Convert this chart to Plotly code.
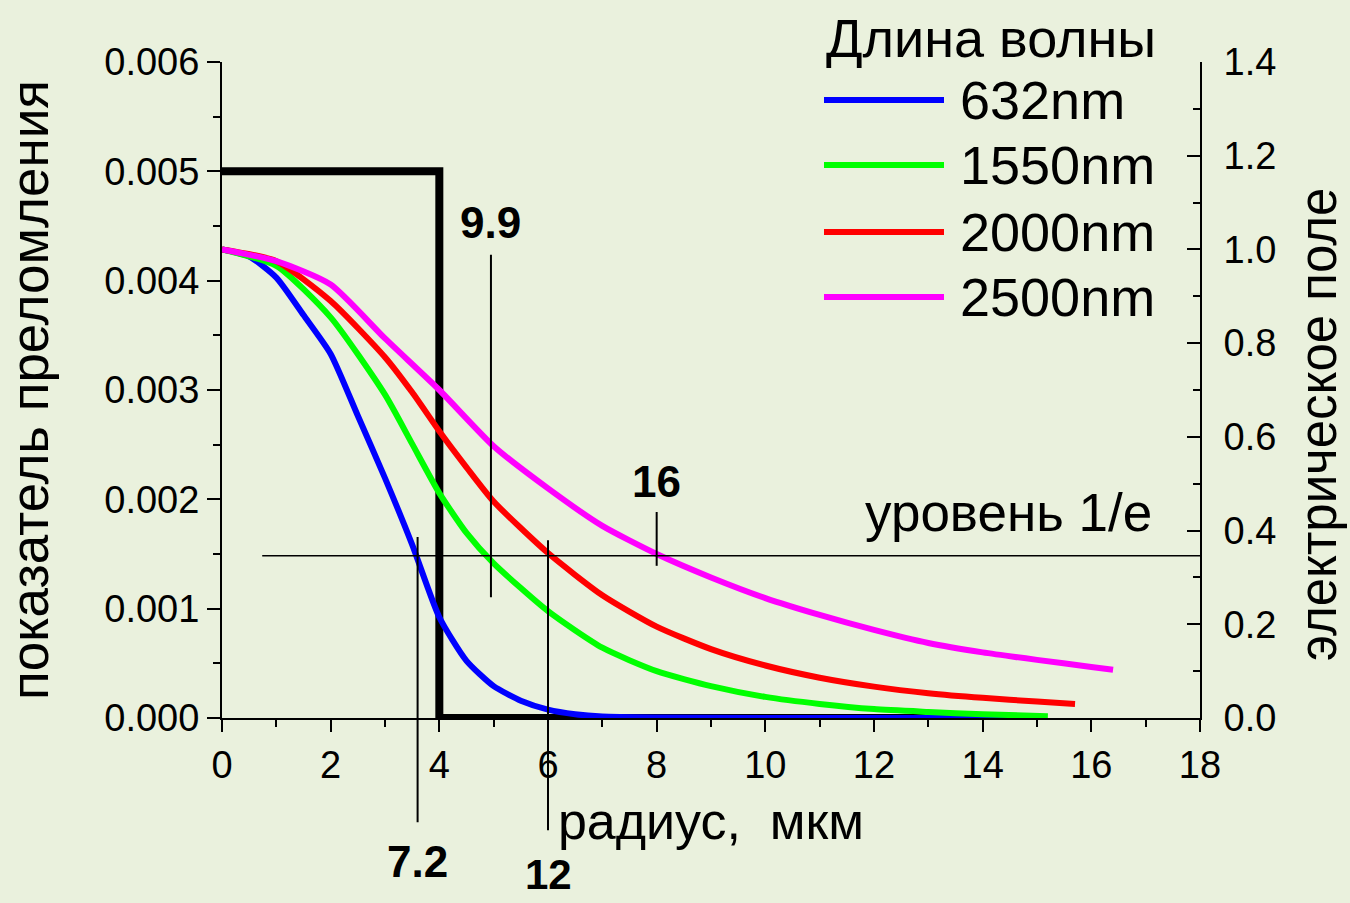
import plotly.graph_objects as go

# ---- data ----
radius_632 = [0, 0.5, 1, 1.5, 2, 2.5, 3, 3.5, 4, 4.5, 5, 5.5, 6, 6.5, 7, 8, 10, 12, 15.1]
field_632 = [1.0, 0.985, 0.94, 0.86, 0.777, 0.645, 0.512, 0.37, 0.215, 0.122, 0.068, 0.037, 0.018, 0.008, 0.003, 0.001, 0.0, 0.0, 0.0]

radius_1550 = [0, 1, 2, 3, 3.5, 4, 4.5, 5, 6, 7, 8, 9, 10, 11, 12, 13, 14, 15.2]
field_1550 = [1.0, 0.965, 0.855, 0.69, 0.585, 0.48, 0.395, 0.33, 0.228, 0.15, 0.10, 0.068, 0.045, 0.03, 0.019, 0.013, 0.008, 0.004]

radius_2000 = [0, 1, 2, 3, 3.5, 4, 4.5, 5, 6, 7, 8, 9, 10, 11, 12, 13, 14, 15, 15.7]
field_2000 = [1.0, 0.975, 0.89, 0.77, 0.695, 0.612, 0.535, 0.462, 0.352, 0.262, 0.195, 0.147, 0.112, 0.086, 0.067, 0.053, 0.043, 0.035, 0.03]

radius_2500 = [0, 1, 2, 3, 4, 5, 6, 7, 8, 9, 10, 11, 12, 13, 14, 15, 16, 16.4]
field_2500 = [1.0, 0.975, 0.925, 0.81, 0.70, 0.58, 0.49, 0.41, 0.35, 0.30, 0.256, 0.22, 0.188, 0.16, 0.14, 0.124, 0.109, 0.103]

step_r = [0, 4, 4, 15]
step_n = [0.005, 0.005, 0.0, 0.0]

series_names = ["632nm", "1550nm", "2000nm", "2500nm"]
series_colors = ["#0000FF", "#00FF00", "#FF0000", "#FF00FF"]

level_1e = 0.346
level_start = 0.74
mfd_labels = ["7.2", "9.9", "12", "16"]
mfd_values = [7.2, 9.9, 12, 16]

FONT = "Liberation Sans, Arial, sans-serif"
BG = "#EAF1DD"

fig = go.Figure()

fig.add_trace(go.Scatter(x=step_r, y=step_n, mode="lines",
                         line=dict(color="black", width=8), yaxis="y",
                         showlegend=False))

xs = [radius_632, radius_1550, radius_2000, radius_2500]
ys = [field_632, field_1550, field_2000, field_2500]
for name, color, x, y in zip(series_names, series_colors, xs, ys):
    fig.add_trace(go.Scatter(x=x, y=y, mode="lines", name=name,
                             line=dict(color=color, width=6, shape="spline", smoothing=0.6),
                             yaxis="y2", showlegend=False))

# 1/e level line
fig.add_trace(go.Scatter(x=[level_start, 18], y=[level_1e, level_1e], mode="lines",
                         line=dict(color="black", width=1.5), yaxis="y2",
                         showlegend=False, hoverinfo="skip"))

shapes = []
annotations = []

# vertical markers (x = half of the mode field diameter)
marker_spans = [(0.276, -0.159), (0.706, 0.184), (0.271, -0.171), (0.314, 0.232)]
label_y = [-0.2195, 0.756, -0.238, 0.361]
label_size = [44, 44, 42, 44]
for lab, d, (y0, y1), ly, sz in zip(mfd_labels, mfd_values, marker_spans, label_y, label_size):
    shapes.append(dict(type="line", xref="x", yref="paper", x0=d / 2, x1=d / 2,
                       y0=y0, y1=y1, line=dict(color="black", width=2)))
    annotations.append(dict(text=lab, xref="x", yref="paper", x=d / 2, y=ly,
                            yanchor="middle", xanchor="center", showarrow=False,
                            font=dict(family=FONT, size=sz, color="black", weight="bold")))

annotations.append(dict(text="уровень 1/е", xref="paper", yref="paper",
                        x=(1008 - 222) / 978, y=(718 - 512) / 656,
                        xanchor="center", yanchor="middle", showarrow=False,
                        font=dict(family=FONT, size=53, color="black")))

# right axis title
annotations.append(dict(text="электрическое поле", xref="paper", yref="paper",
                        x=(1318 - 222) / 978, y=(718 - 425) / 656, textangle=-90,
                        xanchor="center", yanchor="middle", showarrow=False,
                        font=dict(family=FONT, size=51, color="black")))

# legend (drawn manually)
annotations.append(dict(text="Длина волны", xref="paper", yref="paper",
                        x=(991 - 222) / 978, y=(718 - 38) / 656,
                        xanchor="center", yanchor="middle", showarrow=False,
                        font=dict(family=FONT, size=54, color="black")))
leg_y = [100, 165, 232, 297]
for name, color, py in zip(series_names, series_colors, leg_y):
    yp = (718 - py) / 656
    shapes.append(dict(type="line", xref="paper", yref="paper",
                       x0=(824 - 222) / 978, x1=(944 - 222) / 978, y0=yp, y1=yp,
                       line=dict(color=color, width=6)))
    annotations.append(dict(text=name, xref="paper", yref="paper",
                            x=(958 - 222) / 978, y=yp, xanchor="left", yanchor="middle",
                            showarrow=False, font=dict(family=FONT, size=54, color="black")))

fig.update_layout(
    width=1350, height=903,
    margin=dict(l=222, r=150, t=62, b=185),
    paper_bgcolor=BG, plot_bgcolor=BG,
    font=dict(family=FONT, size=38, color="black"),
    shapes=shapes, annotations=annotations,
    xaxis=dict(range=[0, 18], dtick=2, tick0=0, showgrid=False, zeroline=False,
               showline=True, linecolor="black", linewidth=2,
               ticks="outside", ticklen=12, tickwidth=2, tickcolor="black",
               minor=dict(dtick=1, ticks="outside", ticklen=7, tickwidth=2, tickcolor="black"),
               tickfont=dict(size=38),
               title=dict(text="радиус,  мкм", font=dict(size=52), standoff=18)),
    yaxis=dict(range=[0, 0.006], dtick=0.001, tickformat=".3f", showgrid=False,
               zeroline=False, showline=True, linecolor="black", linewidth=2,
               ticks="outside", ticklen=13, tickwidth=2, tickcolor="black",
               minor=dict(dtick=0.0005, ticks="outside", ticklen=7, tickwidth=2, tickcolor="black"),
               tickfont=dict(size=38),
               title=dict(text="показатель преломления", font=dict(size=53), standoff=40)),
    yaxis2=dict(range=[0, 1.4], dtick=0.2, tickformat=".1f", overlaying="y", side="right",
                showgrid=False, zeroline=False, showline=True, linecolor="black", linewidth=2,
                ticks="inside", ticklen=13, tickwidth=2, tickcolor="black",
                minor=dict(dtick=0.1, ticks="inside", ticklen=7, tickwidth=2, tickcolor="black"),
                tickfont=dict(size=38), ticklabelstandoff=14),
)

fig.write_html("out.html")
